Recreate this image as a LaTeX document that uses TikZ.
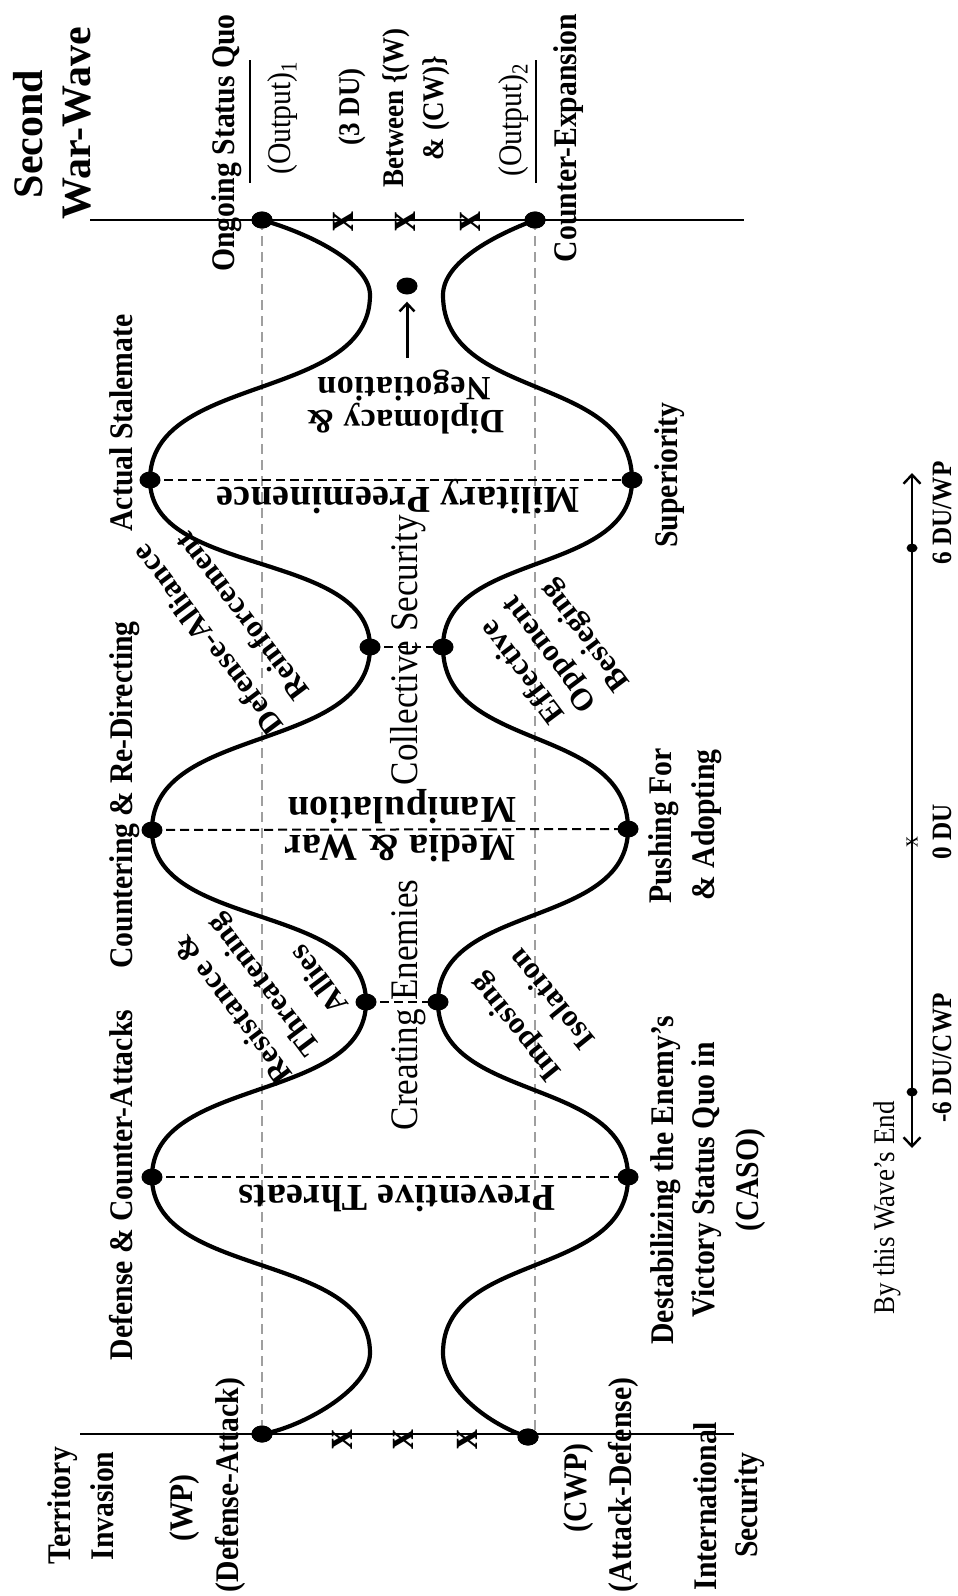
\documentclass[tikz,border=0pt]{standalone}
\usepackage{fontspec}
\setmainfont{Liberation Serif}
\newfontfamily\labfont[FakeStretch=0.9]{Liberation Serif}
\newfontfamily\flipfont[LetterSpace=1.5]{Liberation Serif}
\usetikzlibrary{arrows.meta,shapes.geometric}

\begin{document}
\begin{tikzpicture}[x=1pt,y=-1pt,
  title/.style={font=\bfseries\fontsize{42}{48}\selectfont, rotate=90, anchor=base, inner sep=0pt},
  lab/.style={font=\labfont\bfseries\fontsize{33}{40}\selectfont, rotate=90, anchor=base, inner sep=0pt},
  labreg/.style={font=\labfont\fontsize{33}{40}\selectfont, rotate=90, anchor=base, inner sep=0pt},
  midlab/.style={font=\labfont\fontsize{39}{46}\selectfont, rotate=90, anchor=base, inner sep=0pt},
  small/.style={font=\labfont\bfseries\fontsize{30}{36}\selectfont, rotate=90, anchor=base, inner sep=0pt},
  scalelab/.style={font=\labfont\bfseries\fontsize{28}{34}\selectfont, rotate=90, anchor=base, inner sep=0pt},
  flip/.style={font=\flipfont\bfseries\fontsize{38}{44}\selectfont, rotate=180, anchor=base, inner sep=0pt},
  flipsmall/.style={font=\flipfont\bfseries\fontsize{34}{40}\selectfont, rotate=180, anchor=base, inner sep=0pt},
  diag/.style={font=\flipfont\bfseries\fontsize{31}{38}\selectfont, rotate=#1, inner sep=0pt},
  xmark/.style={font=\labfont\bfseries\fontsize{44}{50}\selectfont, rotate=90, inner sep=0pt},
  dot/.style={ellipse, fill=black, inner sep=0pt, minimum width=21pt, minimum height=17pt},
  sdot/.style={ellipse, fill=black, inner sep=0pt, minimum width=11pt, minimum height=9pt},
  wave/.style={line width=4.2pt, line cap=round},
  axisline/.style={line width=2.6pt},
  guide/.style={gray!75, line width=1.8pt, dash pattern=on 10pt off 6pt},
  link/.style={black, line width=2pt, dash pattern=on 9pt off 5pt},
  fracbar/.style={line width=2.5pt},
  barb/.tip={Straight Barb[length=9pt,width=17pt,line width=2.4pt]}
]
\useasboundingbox (0,0) rectangle (958,1596);

% ---- axis ends and dots on them ----
\coordinate (tl) at (90,220);
\coordinate (tr) at (744,220);
\coordinate (bl) at (80,1434);
\coordinate (br) at (734,1434);

\node[dot] (A0) at (262,220) {};
\node[dot] (B0) at (535,220) {};
\node[dot] (A8) at (262,1434) {};
\node[dot] (B8) at (528,1437) {};

% extrema of the two waves
\coordinate (A1) at (370,295);
\node[dot] (A2) at (150,480) {};
\node[dot] (A3) at (370,647) {};
\node[dot] (A4) at (152,830) {};
\node[dot] (A5) at (366,1002) {};
\node[dot] (A6) at (152,1177) {};
\coordinate (A7) at (370,1353);

\coordinate (B1) at (443,295);
\node[dot] (B2) at (632,480) {};
\node[dot] (B3) at (443,647) {};
\node[dot] (B4) at (628,829) {};
\node[dot] (B5) at (438,1002) {};
\node[dot] (B6) at (628,1177) {};
\coordinate (B7) at (443,1353);

% grey guide lines
\draw[guide] (A0.center) -- (A8.center);
\draw[guide] (B0.center) -- (B0 |- B8);

% dashed links between the waves
\draw[link] (A2.center) -- (B2.center);
\draw[link] (A3.center) -- (B3.center);
\draw[link] (A4.center) -- (B4.center);
\draw[link] (A5.center) -- (B5.center);
\draw[link] (A6.center) -- (B6.center);

% the two waves
\draw[wave] (A0.center) .. controls +(43,12) and +(0,-33) .. (A1)
  .. controls +(0,107) and +(0,-107) .. (A2.center)
  .. controls +(0,97) and +(0,-97) .. (A3.center)
  .. controls +(0,106) and +(0,-106) .. (A4.center)
  .. controls +(0,100) and +(0,-100) .. (A5.center)
  .. controls +(0,101) and +(0,-101) .. (A6.center)
  .. controls +(0,102) and +(0,-102) .. (A7)
  .. controls +(0,37) and +(38,-6) .. (A8.center);
\draw[wave] (B0.center) .. controls +(-40,15) and +(0,-33) .. (B1)
  .. controls +(0,107) and +(0,-107) .. (B2.center)
  .. controls +(0,97) and +(0,-97) .. (B3.center)
  .. controls +(0,106) and +(0,-106) .. (B4.center)
  .. controls +(0,100) and +(0,-100) .. (B5.center)
  .. controls +(0,101) and +(0,-101) .. (B6.center)
  .. controls +(0,102) and +(0,-102) .. (B7)
  .. controls +(0,37) and +(-38,-12) .. (B8.center);

% axes
\draw[axisline] (tl) -- (tr);
\draw[axisline] (bl) -- (br);
\foreach \n in {A0,B0,A8,B8} { \node[dot] at (\n) {}; }

% x marks on the axes
\node[xmark] (xt1) at (343,222) {x};
\node[xmark] (xt2) at (405,222) {x};
\node[xmark] (xt3) at (470,222) {x};
\node[xmark] (xb1) at (342,1440) {x};
\node[xmark] (xb2) at (403,1440) {x};
\node[xmark] (xb3) at (467,1440) {x};

% title
\node[title] (tt1) at (42,134) {Second};
\node[title] (tt2) at (90,123) {War-Wave};

% right-hand output labels
\node[lab] (osq) at (234,143) {Ongoing Status Quo};
\draw[fracbar] (250,60) coordinate (f1a) -- (250,183) coordinate (f1b);
\node[labreg] (out1) at (290,118) {(Output)\textsubscript{1}};
\node[small] (du3) at (359,107) {(3 DU)};
\node[small] (betw) at (403,108) {Between \{(W)};
\node[small] (cw) at (443,108) {\& (CW)\}};
\node[labreg] (out2) at (521,120) {(Output)\textsubscript{2}};
\draw[fracbar] (536,60) coordinate (f2a) -- (536,183) coordinate (f2b);
\node[lab] (cexp) at (576,138) {Counter-Expansion};

% Diplomacy and its arrow
\node[dot] (dip) at (407,286) {};
\coordinate (dipfoot) at (407,358);
\draw[line width=3pt, -{Straight Barb[length=8pt,width=15pt,line width=2.4pt]}, shorten >=7pt] (dipfoot) -- (dip);
\node[flipsmall] (dip1) at (405,410) {Diplomacy \&};
\node[flipsmall] (dip2) at (404,377) {Negotiation};

% labels on the upper wave peaks
\node[lab] (ast) at (132,423) {Actual Stalemate};
\node[lab] (crd) at (132,795) {Countering \& Re-Directing};
\node[lab] (dca) at (132,1185) {Defense \& Counter-Attacks};

% labels on the lower wave troughs
\node[lab] (sup) at (677,475) {Superiority};
\node[lab] (pf1) at (671,826) {Pushing For};
\node[lab] (pf2) at (714,825) {\& Adopting};
\node[lab] (de1) at (673,1180) {Destabilizing the Enemy’s};
\node[lab] (de2) at (714,1180) {Victory Status Quo in};
\node[lab] (de3) at (758,1180) {(CASO)};

% labels in the narrow passages
\node[midlab] (cols) at (417,650) {Collective Security};
\node[midlab] (crea) at (417,1005) {Creating Enemies};

% labels along the dashed links
\node[flip] (milp) at (398,487) {Military Preeminence};
\node[flip] (mw1) at (400,835) {Media \& War};
\node[flip] (mw2) at (402,797) {Manipulation};
\node[flip] (prev) at (397,1185) {Preventive Threats};

% slanted labels along the waves
\node[diag=127] (da1) at (207,640) {Defense-Alliance};
\node[diag=127] (da2) at (241,617) {Reinforcement};
\node[diag=127] (rt1) at (232,1010) {Resistance \&};
\node[diag=127] (rt2) at (265,984) {Threatening};
\node[diag=127] (rt3) at (318,980) {Allies};
\node[diag=127] (eo1) at (521,673) {Effective};
\node[diag=127] (eo2) at (551,653) {Opponent};
\node[diag=127] (eo3) at (586,635) {Besieging};
\node[diag=129] (im1) at (517,1027) {Imposing};
\node[diag=129] (im2) at (551,1000) {Isolation};

% left-hand labels
\node[lab] (ti1) at (70,1506) {Territory};
\node[lab] (ti2) at (113,1506) {Invasion};
\node[lab] (wp1) at (192,1508) {(WP)};
\node[lab] (wp2) at (238,1485) {(Defense-Attack)};
\node[lab] (cw1) at (586,1488) {(CWP)};
\node[lab] (cw2) at (631,1485) {(Attack-Defense)};
\node[lab] (is1) at (716,1506) {International};
\node[lab] (is2) at (757,1505) {Security};

% scale
\coordinate (stop) at (912,473);
\coordinate (sbot) at (912,1148);
\draw[line width=2.6pt, {barb}-{barb}] (sbot) -- (stop);
\node[sdot] (s6) at (912,548) {};
\node[sdot] (sm6) at (912,1092) {};
\node[font=\labfont\fontsize{24}{28}\selectfont, inner sep=0pt, rotate=90] (s0) at (912,842) {x};
\node[scalelab] (l6) at (951,513) {6 DU/WP};
\node[scalelab] (l0) at (951,832) {0 DU};
\node[scalelab] (lm6) at (951,1058) {-6 DU/CWP};
\node[labreg, font=\labfont\fontsize{30}{36}\selectfont] (end) at (894,1208) {By this Wave’s End};
\end{tikzpicture}
\end{document}
